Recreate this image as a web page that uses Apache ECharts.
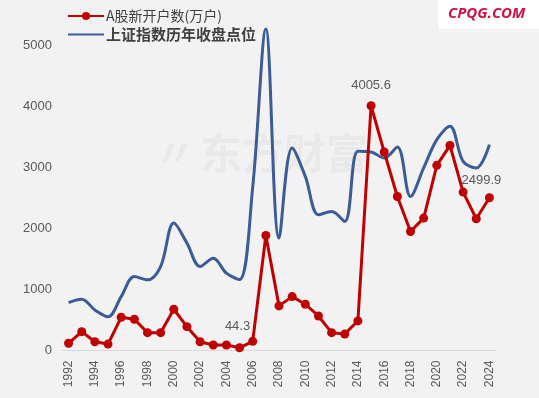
<!DOCTYPE html>
<html>
<head>
<meta charset="utf-8">
<script src="https://cdn.jsdelivr.net/npm/echarts@6/dist/echarts.min.js"></script>
<style>
  html, body { margin: 0; padding: 0; background: #f2f2f2; }
  #chart { width: 539px; height: 398px; }
</style>
</head>
<body>
<div id="chart"></div>
<script>
var years = ['1992','1993','1994','1995','1996','1997','1998','1999','2000','2001','2002',
  '2003','2004','2005','2006','2007','2008','2009','2010','2011','2012','2013','2014','2015',
  '2016','2017','2018','2019','2020','2021','2022','2023','2024'];
// A股新开户数(万户)
var newAccounts = [118, 308, 144, 105, 544, 511, 292, 292, 675, 390, 144,
  90, 90, 44.3, 150, 1882, 730, 882, 757, 565, 292, 270, 484, 4005.6,
  3249, 2521, 1948, 2167, 3030, 3357, 2593, 2156, 2499.9];
// 上证指数历年收盘点位
var indexClose = [784, 839, 664, 554, 882, 1210, 1156, 1374, 2085, 1757, 1374,
  1511, 1266, 1161, 2675, 5262, 1839, 3315, 2850, 2221, 2275, 2111, 3260, 3250,
  3150, 3331, 2521, 2987, 3451, 3669, 3095, 2987, 3369];
var labeledYears = ['2005', '2015', '2024'];
var yTicks = [0, 1000, 2000, 3000, 4000, 5000];

(function () {
  'use strict';

  var chart = echarts.init(document.getElementById('chart'));

  // labels sit a bit off-centre in the source picture
  var labelShift = { '2005': -2, '2015': 0, '2024': -8 };
  var labelGap = { '2005': 10, '2015': 9, '2024': 6 };

  var redData = newAccounts.map(function (v, i) {
    var y = years[i];
    if (labeledYears.indexOf(y) < 0) return v;
    return {
      value: v,
      label: { show: true, position: 'top', distance: labelGap[y], offset: [labelShift[y], 0] }
    };
  });

  var option = {
    backgroundColor: '#f2f2f2',
    animation: false,
    graphic: [
      {
        type: 'text',
        left: 200,
        top: 132,
        style: {
          text: '东方财富',
          font: 'bold 42px "Noto Sans CJK SC"',
          fill: 'rgba(0,0,0,0.035)'
        }
      },
      {
        type: 'text',
        left: 155,
        top: 132,
        style: {
          text: '〃',
          font: 'bold 40px "Noto Sans CJK SC"',
          fill: 'rgba(0,0,0,0.035)'
        }
      },
      {
        type: 'rect',
        shape: { x: 438, y: 0, width: 101, height: 29 },
        style: { fill: '#ffffff' }
      },
      {
        type: 'text',
        left: 448,
        top: 6,
        style: {
          text: 'CPQG.COM',
          font: 'italic bold 15px "Open Sans"',
          fill: '#cf1040'
        }
      }
    ],
    legend: {
      orient: 'vertical',
      left: 62,
      top: 4,
      itemGap: 4,
      itemWidth: 36,
      itemHeight: 10,
      data: [
        { name: 'A股新开户数(万户)', textStyle: { fontWeight: 'normal', fontSize: 14 } },
        {
          name: '上证指数历年收盘点位',
          itemStyle: { color: 'rgba(0,0,0,0)', borderWidth: 0 },
          textStyle: { fontWeight: 'bold', fontSize: 15 }
        }
      ],
      textStyle: {
        color: '#404040',
        fontFamily: 'Noto Sans CJK SC',
        padding: [0, 0, 0, -3]
      }
    },
    grid: {
      left: 62,
      right: 43,
      top: 45,
      bottom: 47.5
    },
    xAxis: {
      type: 'category',
      boundaryGap: true,
      data: years,
      axisLine: { lineStyle: { color: '#d9d9d9', width: 1 } },
      axisTick: { show: false },
      axisLabel: {
        interval: 1,
        rotate: 90,
        margin: 10,
        fontSize: 12,
        fontFamily: 'Liberation Sans',
        color: '#595959'
      }
    },
    yAxis: {
      type: 'value',
      min: yTicks[0],
      max: yTicks[yTicks.length - 1],
      interval: 1000,
      splitLine: { show: false },
      axisLine: { show: false },
      axisTick: { show: false },
      axisLabel: {
        margin: 10,
        fontSize: 13,
        fontFamily: 'Liberation Sans',
        color: '#595959',
        formatter: function (v) { return String(v); }
      }
    },
    series: [
      {
        name: 'A股新开户数(万户)',
        type: 'line',
        data: redData,
        symbol: 'circle',
        symbolSize: 9,
        showAllSymbol: true,
        z: 3,
        lineStyle: { color: '#c00000', width: 3 },
        itemStyle: { color: '#c00000' },
        label: {
          show: false,
          fontSize: 13,
          fontFamily: 'Liberation Sans',
          color: '#595959'
        }
      },
      {
        name: '上证指数历年收盘点位',
        type: 'line',
        data: indexClose,
        smooth: 0.35,
        showSymbol: false,
        symbol: 'none',
        clip: false,
        z: 2,
        lineStyle: { color: '#3c5c98', width: 3 },
        itemStyle: { color: '#3c5c98' }
      }
    ]
  };

  chart.setOption(option, true);
})();
</script>
</body>
</html>
